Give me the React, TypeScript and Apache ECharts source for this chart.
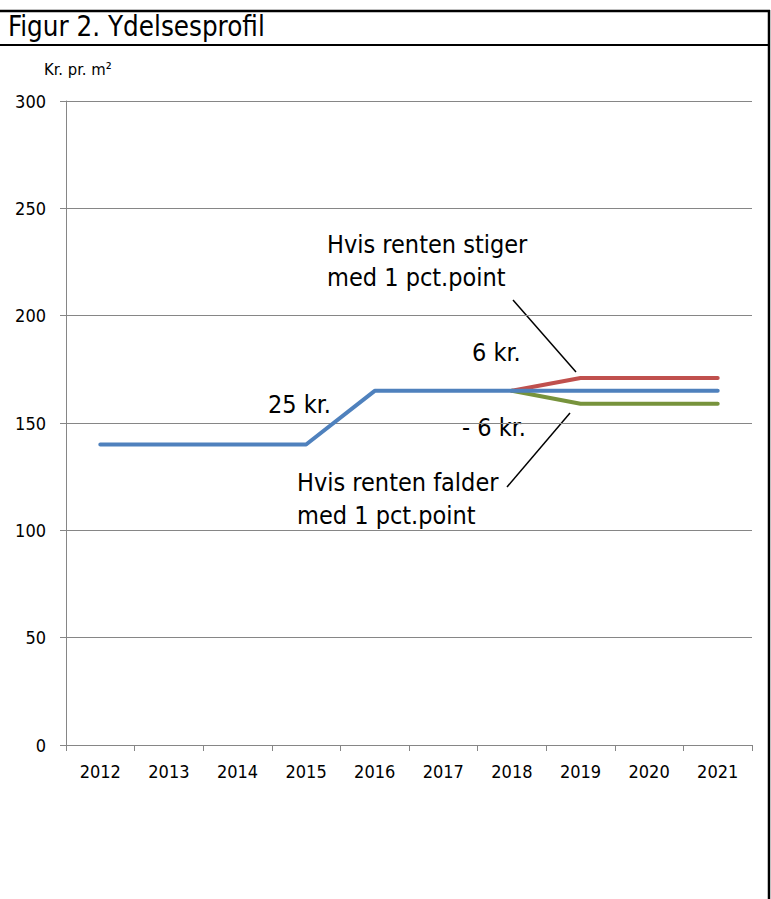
import React, { useEffect, useRef } from "react";
import * as echarts from "echarts";

const years = ["2012", "2013", "2014", "2015", "2016", "2017", "2018", "2019", "2020", "2021"];
const baseProfile = [140, 140, 140, 140, 165, 165, 165, 165, 165, 165];
const riseProfile = [null, null, null, null, null, null, 165, 171, 171, 171];
const fallProfile = [null, null, null, null, null, null, 165, 159, 159, 159];
const yTicks = [0, 50, 100, 150, 200, 250, 300];

const FONT = "'DejaVu Sans Condensed', 'Liberation Sans Narrow', 'Noto Sans', sans-serif";

export default function App() {
  const ref = useRef<HTMLDivElement>(null);
  useEffect(() => {
    document.body.style.margin = "0";
    const chart = echarts.init(ref.current!, null, { renderer: "svg" });
    const txt = (text: string, x: number, y: number, size: number, align = "left") => ({
      type: "text",
      x,
      y,
      silent: true,
      style: {
        text,
        fill: "#000",
        fontFamily: FONT,
        fontSize: size,
        textAlign: align,
        textVerticalAlign: "middle",
      },
    });
    const ln = (x1: number, y1: number, x2: number, y2: number, w: number, c = "#000") => ({
      type: "line",
      silent: true,
      shape: { x1, y1, x2, y2 },
      style: { stroke: c, lineWidth: w },
    });
    chart.setOption({
      animation: false,
      backgroundColor: "#fff",
      grid: { left: 66, right: 19, top: 101, bottom: 154, containLabel: false },
      xAxis: {
        type: "category",
        data: years,
        boundaryGap: true,
        axisLine: { lineStyle: { color: "#868686", width: 1 } },
        axisTick: { show: true, length: 6, lineStyle: { color: "#868686" } },
        axisLabel: { color: "#000", fontFamily: FONT, fontSize: 18, margin: 17 },
      },
      yAxis: {
        type: "value",
        min: yTicks[0],
        max: yTicks[yTicks.length - 1],
        interval: 50,
        axisLine: { show: true, lineStyle: { color: "#868686", width: 1 } },
        axisTick: { show: true, length: 6, lineStyle: { color: "#868686" } },
        splitLine: { show: true, lineStyle: { color: "#868686", width: 1 } },
        axisLabel: { color: "#000", fontFamily: FONT, fontSize: 18, margin: 20 },
      },
      series: [
        {
          name: "Stiger",
          type: "line",
          data: riseProfile,
          symbol: "none",
          lineStyle: { color: "#C0504D", width: 4, cap: "round" },
          z: 2,
        },
        {
          name: "Falder",
          type: "line",
          data: fallProfile,
          symbol: "none",
          lineStyle: { color: "#77933C", width: 4, cap: "round" },
          z: 2,
        },
        {
          name: "Ydelse",
          type: "line",
          data: baseProfile,
          symbol: "none",
          lineStyle: { color: "#4F81BD", width: 4, cap: "round" },
          z: 3,
        },
      ],
      graphic: [
        ln(0, 11, 770, 11, 2.5),
        ln(0, 45, 770, 45, 2),
        ln(769, 10, 769, 899, 2.5),
        txt("Figur 2. Ydelsesprofil", 8, 26, 27.5),
        txt("Kr. pr. m²", 44, 69, 16.5),
        txt("Hvis renten stiger", 327, 244, 25),
        txt("med 1 pct.point", 327, 277, 25),
        txt("6 kr.", 472, 352, 25),
        txt("25 kr.", 268, 404, 25),
        txt("- 6 kr.", 462, 427, 25),
        txt("Hvis renten falder", 297, 482, 25),
        txt("med 1 pct.point", 297, 515, 25),
        ln(513, 300, 576, 372, 1.5),
        ln(570, 413, 507, 487, 1.5),
      ],
    });
    return () => chart.dispose();
  }, []);
  return <div ref={ref} style={{ width: 771, height: 899 }} />;
}
